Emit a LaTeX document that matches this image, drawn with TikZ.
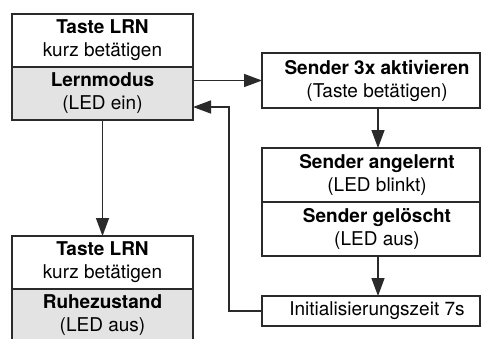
\documentclass[tikz,border=0pt]{standalone}
\usepackage{fontspec}
\setmainfont{TeX Gyre Heros}
\usetikzlibrary{arrows.meta}
\definecolor{ln}{HTML}{2A2A2A}
\definecolor{gf}{HTML}{E3E3E3}
\begin{document}
\begin{tikzpicture}[x=1pt,y=-1pt,
  box/.style={draw=ln, line width=1.4pt, inner sep=0pt, outer sep=0pt, align=center,
    font=\fontsize{19}{23}\selectfont},
  lbox/.style={box, minimum width=181pt, minimum height=53pt},
  rbox/.style={draw=ln, line width=1.4pt, inner sep=0pt, outer sep=0pt, minimum width=218pt},
  txt/.style={inner sep=0pt, align=center, font=\fontsize{19}{23}\selectfont},
  gray/.style={fill=gf},
  arr/.style={draw=ln, line width=1.5pt, -{Triangle[length=18pt,width=13pt]}}]
\useasboundingbox (0,0) rectangle (482,338);
% left column
\node[lbox] (t1) at (102.5,40.5) {\textbf{Taste LRN}\\kurz betätigen};
\node[lbox,gray] (l1) at (102.5,93.5) {\textbf{Lernmodus}\\(LED ein)};
\node[lbox] (t2) at (102.5,262.5) {\textbf{Taste LRN}\\kurz betätigen};
\node[lbox,gray] (r2) at (102.5,315.5) {\textbf{Ruhezustand}\\(LED aus)};
% right column
\node[rbox, minimum height=55pt] (s1) at (371,80.5) {};
\node[txt] (s1t) at (377,80.5) {\textbf{Sender 3x aktivieren}\\(Taste betätigen)};
\node[rbox, minimum height=54pt] (s2) at (371,175) {};
\node[txt] (s2t) at (377,175) {\textbf{Sender angelernt}\\(LED blinkt)};
\node[rbox, minimum height=54pt] (s3) at (371,229) {};
\node[txt] (s3t) at (377,229) {\textbf{Sender gelöscht}\\(LED aus)};
\node[rbox, minimum height=30pt] (in) at (371,311) {};
\node[txt] (int) at (377,311) {Initialisierungszeit 7s};
% connectors
\coordinate (ax) at (378,0);
\coordinate (ret) at (229,107);
\draw[arr] (s1.west -| l1.east) -- (s1.west);
\draw[arr] (s1.south -| ax) -- (s2.north -| ax);
\draw[arr] (s3.south -| ax) -- (in.north -| ax);
\draw[arr] (l1.south) -- (t2.north);
\draw[arr] (in.west) -| (ret) -- (ret -| l1.east);
\end{tikzpicture}
\end{document}
